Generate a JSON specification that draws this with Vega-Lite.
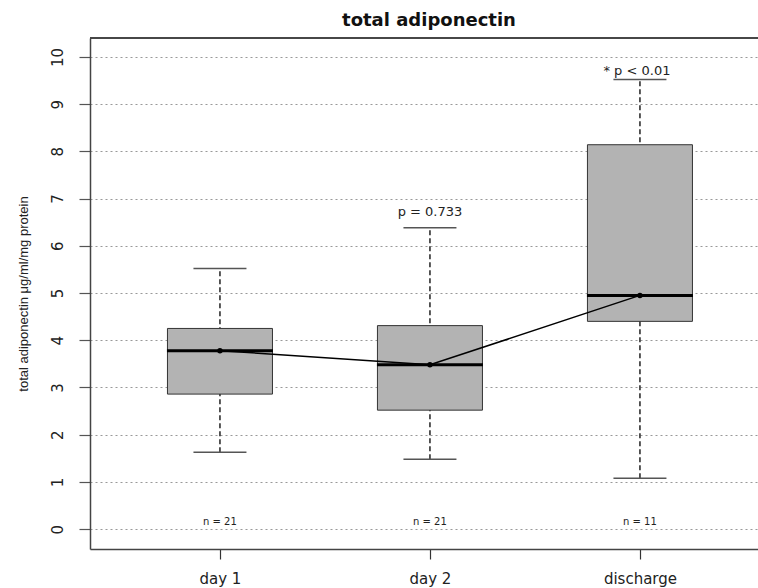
{
  "$schema": "https://vega.github.io/schema/vega-lite/v6.json",
  "autosize": "none",
  "width": 668,
  "height": 511,
  "padding": {"left": 90, "top": 38, "right": 0, "bottom": 39},
  "background": "white",
  "title": {
    "text": "total adiponectin",
    "font": "DejaVu Sans",
    "fontWeight": "bold",
    "fontSize": 18,
    "color": "#111",
    "anchor": "middle",
    "baseline": "alphabetic",
    "offset": 12,
    "dx": 5,
    "dy": 19
  },
  "data": {
    "values": [
      {"group": "day 1", "low": 1.63, "q1": 2.86, "median": 3.78, "q3": 4.25, "high": 5.52, "n": "n = 21", "p": ""},
      {"group": "day 2", "low": 1.48, "q1": 2.52, "median": 3.48, "q3": 4.31, "high": 6.38, "n": "n = 21", "p": "p = 0.733"},
      {"group": "discharge", "low": 1.08, "q1": 4.4, "median": 4.95, "q3": 8.14, "high": 9.52, "n": "n = 11", "p": "* p < 0.01"}
    ]
  },
  "encoding": {
    "x": {
      "field": "group",
      "type": "nominal",
      "sort": ["day 1", "day 2", "discharge"],
      "scale": {"type": "point", "padding": 0.5905, "align": 0.524},
      "axis": {"title": null}
    }
  },
  "layer": [
    {
      "mark": {"type": "rule", "color": "#222", "strokeWidth": 1.5, "strokeDash": [5, 3]},
      "encoding": {
        "y": {"field": "low", "type": "quantitative", "title": "total adiponectin μg/ml/mg protein", "scale": {"domain": [-0.42, 10.4], "nice": false, "zero": false}},
        "y2": {"field": "high"}
      }
    },
    {
      "mark": {"type": "bar", "size": 105, "fill": "#b3b3b3", "stroke": "#333", "strokeWidth": 1, "opacity": 1},
      "encoding": {
        "y": {"field": "q1", "type": "quantitative", "title": "total adiponectin μg/ml/mg protein"},
        "y2": {"field": "q3"}
      }
    },
    {
      "mark": {"type": "tick", "size": 53, "thickness": 1.5, "color": "#555", "opacity": 1},
      "encoding": {"y": {"field": "low", "type": "quantitative", "title": "total adiponectin μg/ml/mg protein"}}
    },
    {
      "mark": {"type": "tick", "size": 53, "thickness": 1.5, "color": "#555", "opacity": 1},
      "encoding": {"y": {"field": "high", "type": "quantitative", "title": "total adiponectin μg/ml/mg protein"}}
    },
    {
      "mark": {"type": "tick", "size": 106, "thickness": 3, "color": "#000", "opacity": 1},
      "encoding": {"y": {"field": "median", "type": "quantitative", "title": "total adiponectin μg/ml/mg protein"}}
    },
    {
      "mark": {"type": "line", "color": "#000", "strokeWidth": 1.5},
      "encoding": {"y": {"field": "median", "type": "quantitative", "title": "total adiponectin μg/ml/mg protein"}}
    },
    {
      "mark": {"type": "point", "filled": true, "color": "#000", "size": 30, "opacity": 1},
      "encoding": {"y": {"field": "median", "type": "quantitative", "title": "total adiponectin μg/ml/mg protein"}}
    },
    {
      "mark": {"type": "text", "font": "DejaVu Sans", "fontSize": 10, "color": "#222", "baseline": "middle"},
      "encoding": {
        "y": {"datum": 0.15, "type": "quantitative", "title": "total adiponectin μg/ml/mg protein"},
        "text": {"field": "n"}
      }
    },
    {
      "transform": [{"filter": "datum.group == 'day 2'"}],
      "mark": {"type": "text", "font": "DejaVu Sans", "fontSize": 13, "color": "#222", "baseline": "middle", "dy": -16},
      "encoding": {
        "y": {"field": "high", "type": "quantitative", "title": "total adiponectin μg/ml/mg protein"},
        "text": {"field": "p"}
      }
    },
    {
      "transform": [{"filter": "datum.group == 'discharge'"}],
      "mark": {"type": "text", "font": "DejaVu Sans", "fontSize": 13, "color": "#222", "baseline": "middle", "dy": -9, "dx": -3},
      "encoding": {
        "y": {"field": "high", "type": "quantitative", "title": "total adiponectin μg/ml/mg protein"},
        "text": {"field": "p"}
      }
    },
    {
      "mark": {"type": "rule", "color": "#444", "strokeWidth": 1.5},
      "encoding": {
        "x": {"value": 0},
        "x2": {"value": 668},
        "y": {"datum": 10.4, "type": "quantitative", "title": "total adiponectin μg/ml/mg protein"}
      }
    }
  ],
  "config": {
    "view": {"stroke": null},
    "axisY": {
      "values": [0, 1, 2, 3, 4, 5, 6, 7, 8, 9, 10],
      "grid": true,
      "gridColor": "#999",
      "gridDash": [2, 3],
      "gridWidth": 1,
      "domain": true,
      "domainColor": "#444",
      "domainWidth": 1.5,
      "tickSize": 11,
      "tickColor": "#555",
      "tickWidth": 1.2,
      "labelAngle": 270,
      "labelAlign": "center",
      "labelBaseline": "middle",
      "labelPadding": 22,
      "labelFont": "DejaVu Sans",
      "labelFontSize": 15,
      "labelColor": "#222",
      "titleFont": "Liberation Sans",
      "titleFontWeight": "normal",
      "titleFontSize": 13,
      "titleColor": "#222",
      "titleX": -67,
      "titleAlign": "center",
      "titleBaseline": "middle",
      "zindex": 1
    },
    "axisX": {
      "grid": false,
      "domain": true,
      "domainColor": "#444",
      "domainWidth": 1.5,
      "tickSize": 10,
      "tickColor": "#333",
      "tickWidth": 1.2,
      "labelAngle": 0,
      "labelBaseline": "middle",
      "labelPadding": 19,
      "labelFont": "DejaVu Sans",
      "labelFontSize": 15,
      "labelColor": "#222"
    }
  }
}
